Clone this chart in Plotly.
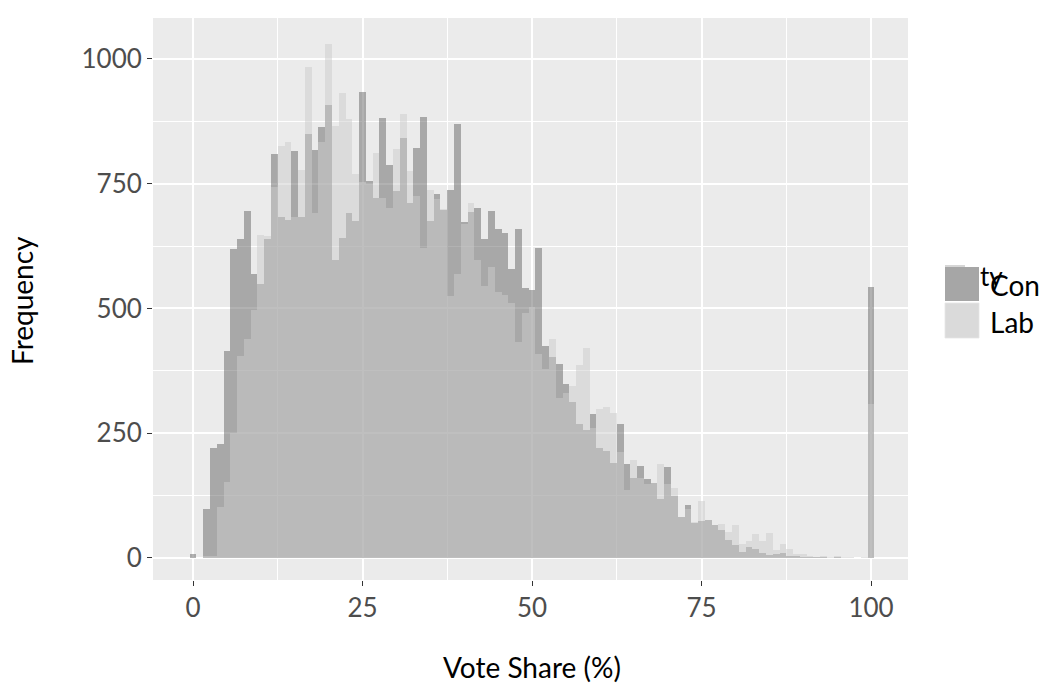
import plotly.graph_objects as go

bins = list(range(0, 101))

con = [8, 0, 98, 220, 228, 415, 619, 639, 695, 570,
       550, 640, 810, 684, 677, 816, 684, 849, 818, 863,
       908, 598, 641, 691, 675, 933, 756, 722, 882, 788,
       735, 842, 711, 822, 884, 675, 730, 697, 737, 870,
       674, 693, 701, 640, 695, 659, 651, 579, 659, 540,
       537, 622, 425, 403, 388, 348, 312, 269, 257, 289,
       221, 215, 191, 268, 189, 161, 184, 158, 151, 118,
       182, 124, 83, 107, 71, 74, 76, 66, 56, 36,
       27, 13, 23, 19, 11, 7, 8, 11, 4, 3,
       2, 2, 1, 1, 0, 1, 0, 0, 0, 0,
       543]

lab = [0, 0, 4, 3, 102, 152, 251, 404, 439, 496,
       647, 645, 744, 825, 833, 684, 778, 983, 692, 834,
       1030, 866, 931, 880, 770, 754, 749, 811, 722, 702,
       819, 890, 775, 725, 622, 737, 719, 700, 525, 570,
       670, 712, 598, 545, 584, 532, 527, 510, 433, 490,
       502, 409, 378, 439, 320, 330, 345, 387, 421, 261,
       299, 303, 290, 213, 137, 196, 160, 149, 150, 188,
       148, 141, 83, 98, 72, 114, 76, 66, 69, 53,
       66, 29, 35, 49, 35, 51, 16, 29, 18, 9,
       9, 4, 2, 3, 1, 3, 1, 2, 0, 1,
       309]

x_ticks = [0, 25, 50, 75, 100]
y_ticks = [0, 250, 500, 750, 1000]
parties = ["Con", "Lab"]

FONT = "Lato"
W, H = 1043, 684
# panel edges in window pixels
L, R, T, B = 153, 908, 18, 580

def px(xp):
    return (xp - L) / (R - L)

def py(yp):
    return (B - yp) / (B - T)

fig = go.Figure()
fig.add_trace(go.Bar(x=bins, y=con, width=1, name=parties[0],
                     marker=dict(color="rgba(102,102,102,0.5)", line=dict(width=0)),
                     showlegend=False))
fig.add_trace(go.Bar(x=bins, y=lab, width=1, name=parties[1],
                     marker=dict(color="rgba(204,204,204,0.5)", line=dict(width=0)),
                     showlegend=False))

axis_common = dict(
    showgrid=True, gridcolor="white", gridwidth=1.6,
    zeroline=False, showline=False,
    ticks="outside", ticklen=5, tickwidth=1.2, tickcolor="#333333",
    tickfont=dict(family=FONT, size=26, color="#4D4D4D"),
)

fig.update_layout(
    width=W, height=H,
    margin=dict(l=L, r=W - R, t=T, b=H - B, pad=0),
    barmode="overlay", bargap=0,
    plot_bgcolor="#EBEBEB", paper_bgcolor="white",
    showlegend=False,
    xaxis=dict(range=[-5.9, 105.45], tickvals=x_ticks,
               minor=dict(showgrid=True, gridcolor="white", gridwidth=0.8,
                          tickvals=[12.5, 37.5, 62.5, 87.5], ticklen=0),
               **axis_common),
    yaxis=dict(range=[-44.1, 1082], tickvals=y_ticks,
               minor=dict(showgrid=True, gridcolor="white", gridwidth=0.8,
                          tickvals=[125, 375, 625, 875], ticklen=0),
               **axis_common),
)

annotations = [
    dict(text="Vote Share (%)", x=px(532), y=py(667), xref="paper", yref="paper",
         showarrow=False, font=dict(family=FONT, size=28, color="black"),
         xanchor="center", yanchor="middle"),
    dict(text="Frequency", x=px(22), y=py(301), xref="paper", yref="paper",
         showarrow=False, textangle=-90, font=dict(family=FONT, size=28, color="black"),
         xanchor="center", yanchor="middle"),
    dict(text="ty", x=px(978), y=py(276), xref="paper", yref="paper",
         showarrow=False, font=dict(family=FONT, size=26, color="black"),
         xanchor="left", yanchor="middle"),
    dict(text=parties[0], x=px(988), y=py(285), xref="paper", yref="paper",
         showarrow=False, font=dict(family=FONT, size=28, color="black"),
         xanchor="left", yanchor="middle"),
    dict(text=parties[1], x=px(988), y=py(322), xref="paper", yref="paper",
         showarrow=False, font=dict(family=FONT, size=28, color="black"),
         xanchor="left", yanchor="middle"),
]
fig.update_layout(annotations=annotations)

shapes = [
    dict(type="rect", xref="paper", yref="paper", x0=px(945), x1=px(965), y0=py(268), y1=py(265),
         fillcolor="#D6D6D6", line=dict(width=0), layer="above"),
    dict(type="rect", xref="paper", yref="paper", x0=px(945), x1=px(979), y0=py(301), y1=py(267),
         fillcolor="#A6A6A6", line=dict(width=0), layer="above"),
    dict(type="rect", xref="paper", yref="paper", x0=px(945), x1=px(979), y0=py(338), y1=py(303),
         fillcolor="#DADADA", line=dict(width=0.8, color="#E6E6E6"), layer="above"),
]
fig.update_layout(shapes=shapes)

fig.write_html("out.html", config={"displayModeBar": False},
               post_script="document.body.style.margin='0px';")
